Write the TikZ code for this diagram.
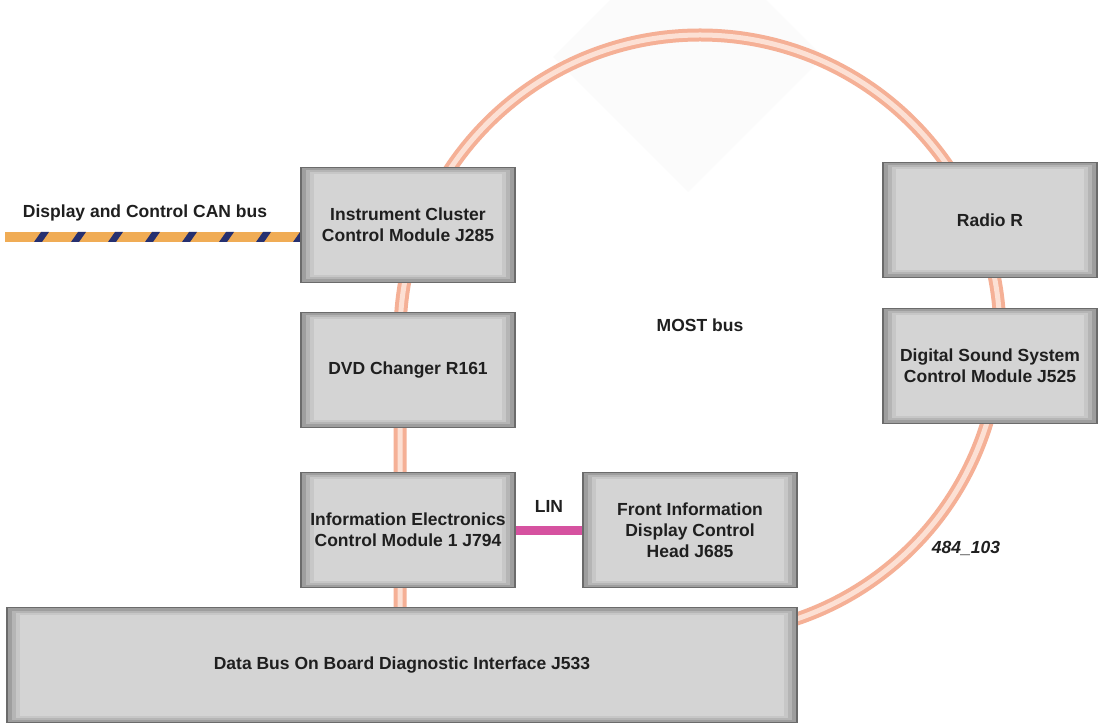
\documentclass[tikz,border=0pt]{standalone}
\usepackage{fontspec}
\setmainfont{Liberation Sans}
\usepackage{xcolor}
\usetikzlibrary{backgrounds,calc}

\begin{document}
\begin{tikzpicture}[
  x=1pt,
  y=1pt,
  font=\bfseries\fontsize{17.5}{21}\selectfont,
  text=black!88,
  most/.style={line width=4pt, draw={rgb,255:red,245;green,176;blue,150},
    double={rgb,255:red,252;green,224;blue,212}, double distance=5pt},
  canbus/.style={line width=10pt, draw={rgb,255:red,240;green,172;blue,85}},
  canstripe/.style={fill={rgb,255:red,38;green,48;blue,112}},
  linbus/.style={line width=9pt, draw={rgb,255:red,214;green,82;blue,160}},
  module/.style={rectangle, minimum width=214pt, minimum height=115pt,
    inner sep=2pt, align=center, draw=black!58, line width=1.4pt, fill=black!38,
    path picture={
      \fill[black!29] ([shift={(5pt,3pt)}]path picture bounding box.south west)
        rectangle ([shift={(-5pt,-3pt)}]path picture bounding box.north east);
      \fill[black!22] ([shift={(9pt,5pt)}]path picture bounding box.south west)
        rectangle ([shift={(-9pt,-5pt)}]path picture bounding box.north east);
      \fill[black!17] ([shift={(13pt,7pt)}]path picture bounding box.south west)
        rectangle ([shift={(-13pt,-7pt)}]path picture bounding box.north east);
    }},
  buslabel/.style={inner sep=0pt, align=center}
]
\useasboundingbox (0,0) rectangle (1099,723);

% Modules on the ring, left column first.
\node[module] (j285) at (408,498) {Instrument Cluster\\Control Module J285};
\node[module] (r161) at (408,353) {DVD Changer R161};
\node[module] (j794) at (408,193) {Information Electronics\\Control Module 1 J794};
\node[module] (j685) at (690,193) {Front Information\\Display Control\\Head J685};
\node[module] (radio) at (990,503) {Radio R};
\node[module] (j525) at (990,357) {Digital Sound System\\Control Module J525};
\node[module, minimum width=790pt] (j533) at (402,58)
  {Data Bus On Board Diagnostic Interface J533};

% Free labels.
\node[buslabel] (mostlabel) at (700,398) {MOST bus};
\node[buslabel] (canlabel) at (145,510) {Display and Control CAN bus};
\node[buslabel, font=\bfseries\itshape\fontsize{17.5}{21}\selectfont] (figno)
  at (966,175) {484\_103};

% LIN link between the two information modules.
\draw[linbus] (j794.east) -- node[buslabel, above=13pt] (linlabel) {LIN} (j685.west);

% The buses run behind the modules.
\coordinate (mostw) at (400,388);
\coordinate (canstart) at (5,486);
\begin{scope}[on background layer]
  \fill[white] (0,0) rectangle (1099,723);
  \fill[black!1.5] (688,531) -- (823,666) -- (688,801) -- (553,666) -- cycle;
  \draw[most] (mostw |- j533.center) -- (mostw)
    arc[start angle=180, end angle=-72, radius=300pt];
  \draw[canbus] (canstart) -- (canstart -| j285.west);
  \foreach \k in {0,...,7}
    \fill[canstripe] (34+37*\k,481) -- ++(8,0) -- ++(7,10) -- ++(-8,0) -- cycle;
\end{scope}

\end{tikzpicture}
\end{document}
